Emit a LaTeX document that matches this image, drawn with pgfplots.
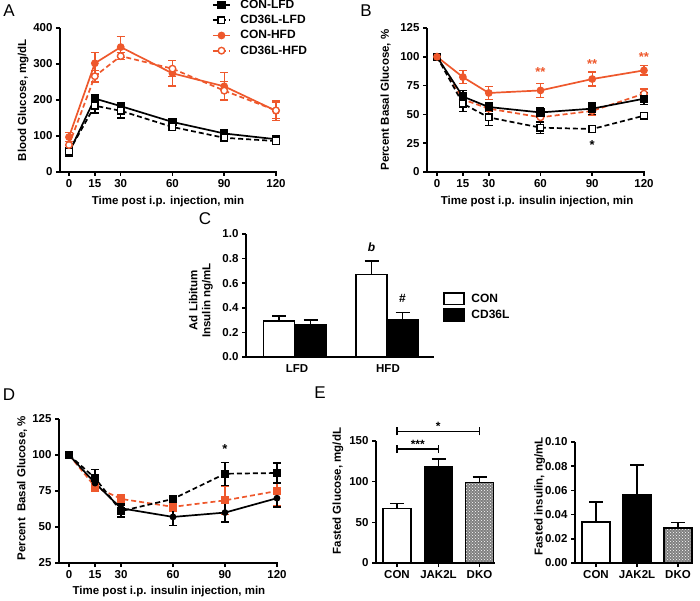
\documentclass[border=0pt]{standalone}
\usepackage{pgfplots}
\pgfplotsset{compat=1.18}
\usetikzlibrary{patterns}
\usepackage{fontspec}
\setmainfont{Liberation Sans}
\definecolor{orng}{RGB}{238,88,44}
\newcommand{\tfont}{\fontsize{11.5}{13}\selectfont\bfseries}
\pgfplotsset{
  gp/.style={
    scale only axis,
    axis lines=left,
    axis line style={-, line width=1.7pt},
    tick align=outside,
    major tick length=4pt,
    tick style={line width=1.5pt, black},
    tick label style={font=\tfont},
    label style={font=\tfont},
    clip=false,
    /pgf/number format/assume math mode=true,
    ylabel style={anchor=center},
    xlabel style={anchor=center},
  },
  ebar/.style={
    error bars/y dir=both, error bars/y explicit,
    error bars/error bar style={solid, line width=1.4pt},
    error bars/error mark options={line width=1.4pt, mark size=4pt, rotate=90},
  },
  pbar/.style={
    error bars/y dir=plus, error bars/y explicit,
    error bars/error bar style={solid, line width=1.7pt},
    error bars/error mark options={line width=1.7pt, mark size=7pt, rotate=90},
  },
  conlfd/.style={black, solid, line width=1.7pt, mark=square*, mark size=3.3pt, mark options={solid, fill=black}, ebar},
  cdlfd/.style={black, dash pattern=on 5pt off 3pt, line width=1.7pt, mark=square*, mark size=3.3pt, mark options={solid, fill=white, line width=1.4pt}, ebar},
  conhfd/.style={orng, solid, line width=1.7pt, mark=*, mark size=3pt, mark options={solid, fill=orng}, ebar},
  cdhfd/.style={orng, dash pattern=on 5pt off 3pt, line width=1.7pt, mark=*, mark size=3.3pt, mark options={solid, fill=white, line width=1.4pt}, ebar},
  dko/.style={fill=black!50, postaction={pattern=crosshatch dots, pattern color=white}},
}
\begin{document}
\begin{tikzpicture}
\path[use as bounding box] (0pt,0pt) rectangle (700pt,600pt);

% ---------------- Panel A ----------------
\begin{axis}[gp, at={(60pt,428pt)}, anchor=south west, width=217pt, height=144pt,
  xmin=-5.2, xmax=120.6, ymin=0, ymax=400,
  xtick={0,15,30,60,90,120}, ytick={0,100,200,300,400},
  xlabel={Time post i.p. injection, min}, ylabel={Blood Glucose, mg/dL},
  xlabel style={at={(axis description cs:0.498,-0.208)}},
  ylabel style={at={(axis description cs:-0.17,0.5)}},
  legend style={at={(axis description cs:0.70,1.205)}, anchor=north west, draw=none, fill=none,
    font=\fontsize{12}{13}\selectfont\bfseries, row sep=2.3pt, inner sep=0pt,
    nodes={inner sep=1.5pt},
    /tikz/every odd column/.append style={column sep=8pt}},
  legend cell align=left,
]
\addplot[conlfd] table[x=t, y=y, y error=e] {
t y e
0 54 5
15 204 12
30 183 10
60 139 7
90 107 5
120 91 4
};
\addlegendentry{CON-LFD}
\addplot[cdlfd] table[x=t, y=y, y error=e] {
t y e
0 57 5
15 184 20
30 170 20
60 125 8
90 95 5
120 86 4
};
\addlegendentry{CD36L-LFD}
\addplot[conhfd] table[x=t, y=y, y error=e] {
t y e
0 97 12
15 302 30
30 347 29
60 274 35
90 238 38
120 170 27
};
\addlegendentry{CON-HFD}
\addplot[cdhfd] table[x=t, y=y, y error=e] {
t y e
0 75 10
15 266 16
30 322 10
60 287 22
90 226 25
120 171 22
};
\addlegendentry{CD36L-HFD}
\end{axis}

% ---------------- Panel B ----------------
\begin{axis}[gp, at={(427pt,428pt)}, anchor=south west, width=218pt, height=144pt,
  xmin=-5.8, xmax=120.6, ymin=0, ymax=125,
  xtick={0,15,30,60,90,120}, ytick={0,25,50,75,100,125},
  xlabel={Time post i.p. insulin injection, min}, ylabel={Percent Basal Glucose, \%},
  xlabel style={at={(axis description cs:0.505,-0.208)}},
  ylabel style={at={(axis description cs:-0.19,0.5)}},
]
\addplot[cdhfd] table[x=t, y=y, y error=e] {
t y e
0 100 0
15 63 5
30 55 4
60 47.5 4
90 53 4
120 68 4
};
\addplot[conlfd] table[x=t, y=y, y error=e] {
t y e
0 100 0
15 65.5 5
30 56.4 4
60 51.7 4
90 55 5
120 63.6 5
};
\addplot[cdlfd] table[x=t, y=y, y error=e] {
t y e
0 100 0
15 59.3 7
30 47.4 7
60 38.5 5
90 37.3 3
120 48.9 3
};
\addplot[conhfd] table[x=t, y=y, y error=e] {
t y e
0 100 0
15 82.4 5.5
30 68.6 5.5
60 70.8 6
90 80.7 6
120 88.2 4
};
\node[orng, font=\fontsize{13}{13}\selectfont\bfseries] at (axis cs:60,87) {**};
\node[orng, font=\fontsize{13}{13}\selectfont\bfseries] at (axis cs:90,93.5) {**};
\node[orng, font=\fontsize{13}{13}\selectfont\bfseries] at (axis cs:120,99.5) {**};
\node[black, font=\fontsize{13}{13}\selectfont\bfseries] at (axis cs:90,23.5) {*};
\end{axis}

% ---------------- Panel C ----------------
\begin{axis}[gp, at={(246pt,243pt)}, anchor=south west, width=188pt, height=123pt,
  xmin=0, xmax=188, ymin=0, ymax=1.0,
  xtick={51,142}, xticklabels={LFD,HFD}, xtick style={draw=none},
  ytick={0,0.2,0.4,0.6,0.8,1.0}, yticklabels={0.0,0.2,0.4,0.6,0.8,1.0},
  ylabel={Ad Libitum\\Insulin ng/mL},
  ylabel style={at={(axis description cs:-0.24,0.46)}, align=center},
  legend style={at={(axis description cs:1.048,0.53)}, anchor=north west, draw=none, fill=none,
    font=\fontsize{12}{13}\selectfont\bfseries, row sep=3pt, inner sep=0pt,
    nodes={inner sep=1.5pt},
    /tikz/every odd column/.append style={column sep=5pt}},
  legend cell align=left,
  legend image code/.code={\draw[line width=1.7pt, draw=black, #1] (0pt,-5.5pt) rectangle (20pt,6pt);},
]
\addplot[ybar, bar shift=0pt, bar width=31, fill=white, draw=black, line width=1.8pt, pbar]
  coordinates {(33,0.295) +- (0,0.038) (125.5,0.67) +- (0,0.113)};
\addlegendentry{CON}
\addplot[ybar, bar shift=0pt, bar width=31, fill=black, draw=black, line width=1.8pt, pbar]
  coordinates {(64.5,0.265) +- (0,0.037) (156.5,0.305) +- (0,0.058)};
\addlegendentry{CD36L}
\node[font=\fontsize{12}{13}\selectfont\bfseries\itshape] at (axis cs:125.5,0.89) {b};
\node[font=\fontsize{12}{13}\selectfont\bfseries] at (axis cs:156.5,0.475) {\#};
\end{axis}

% ---------------- Panel D ----------------
\begin{axis}[gp, at={(59pt,37pt)}, anchor=south west, width=219pt, height=144pt,
  xmin=-5.8, xmax=120.6, ymin=25, ymax=125,
  xtick={0,15,30,60,90,120}, ytick={25,50,75,100,125},
  xlabel={Time post i.p. insulin injection, min}, ylabel={Percent\ \ Basal Glucose, \%},
  xlabel style={at={(axis description cs:0.502,-0.2)}},
  ylabel style={at={(axis description cs:-0.169,0.52)}},
]
\addplot[orng, dash pattern=on 5pt off 3pt, line width=1.7pt, mark=square*, mark size=3.2pt, mark options={solid, fill=orng}, ebar] table[x=t, y=y, y error=e] {
t y e
0 100 0
15 78 3
30 69.5 3
60 64 3
90 68.5 10
120 75 10
};
\addplot[black, dash pattern=on 5pt off 3pt, line width=1.7pt, mark=square*, mark size=3.3pt, mark options={solid, fill=black}, ebar] table[x=t, y=y, y error=e] {
t y e
0 100 0
15 84 6
30 61 4
60 69.5 2
90 87 8
120 87.5 7
};
\addplot[black, solid, line width=1.7pt, mark=*, mark size=2.5pt, mark options={solid, fill=black}, ebar] table[x=t, y=y, y error=e] {
t y e
0 100 0
15 80.5 3
30 63 3
60 57 6
90 60 6.5
120 70 6
};
\node[black, font=\fontsize{13}{13}\selectfont\bfseries] at (axis cs:90,104) {*};
\end{axis}

% ---------------- Panel E left ----------------
\begin{axis}[gp, at={(376pt,37pt)}, anchor=south west, width=119pt, height=122pt,
  xmin=0, xmax=119, ymin=0, ymax=150,
  xtick={21,62.5,103.5}, xticklabels={CON,JAK2L,DKO},
  ytick={0,50,100,150},
  ylabel={Fasted Glucose, mg/dL},
  ylabel style={at={(axis description cs:-0.32,0.59)}},
]
\addplot[ybar, bar shift=0pt, bar width=28, fill=white, draw=black, line width=1.8pt, pbar]
  coordinates {(21,67) +- (0,6)};
\addplot[ybar, bar shift=0pt, bar width=28, fill=black, draw=black, line width=1.8pt, pbar]
  coordinates {(62.5,118) +- (0,10)};
\addplot[ybar, bar shift=0pt, bar width=28, dko, draw=black, line width=1.8pt, pbar]
  coordinates {(103.5,99) +- (0,7)};
\draw[line width=1.4pt] (axis cs:21,135) -- (axis cs:21,145);
\draw[line width=1.4pt] (axis cs:62.5,135) -- (axis cs:62.5,145);
\draw[line width=1.4pt] (axis cs:21,140) -- (axis cs:62.5,140);
\draw[line width=1.4pt] (axis cs:21,157) -- (axis cs:21,167);
\draw[line width=1.4pt] (axis cs:103.5,157) -- (axis cs:103.5,167);
\draw[line width=1.4pt] (axis cs:21,162) -- (axis cs:103.5,162);
\node[font=\fontsize{12}{12}\selectfont\bfseries] at (axis cs:41.75,146) {***};
\node[font=\fontsize{12}{12}\selectfont\bfseries] at (axis cs:62.25,168) {*};
\end{axis}

% ---------------- Panel E right ----------------
\begin{axis}[gp, at={(575pt,37pt)}, anchor=south west, width=118pt, height=121pt,
  xmin=0, xmax=118, ymin=0, ymax=0.10,
  xtick={21,62,103}, xticklabels={CON,JAK2L,DKO},
  ytick={0,0.02,0.04,0.06,0.08,0.10}, yticklabels={0.00,0.02,0.04,0.06,0.08,0.10},
  ylabel={Fasted insulin, ng/mL},
  ylabel style={at={(axis description cs:-0.30,0.55)}},
]
\addplot[ybar, bar shift=0pt, bar width=28, fill=white, draw=black, line width=1.8pt, pbar]
  coordinates {(21,0.0342) +- (0,0.0165)};
\addplot[ybar, bar shift=0pt, bar width=28, fill=black, draw=black, line width=1.8pt, pbar]
  coordinates {(62,0.0562) +- (0,0.0246)};
\addplot[ybar, bar shift=0pt, bar width=28, dko, draw=black, line width=1.8pt, pbar]
  coordinates {(103,0.0288) +- (0,0.0046)};
\end{axis}

% Panel letters
\node[font=\fontsize{17}{17}\selectfont] at (9pt,589pt) {A};
\node[font=\fontsize{17}{17}\selectfont] at (366pt,589pt) {B};
\node[font=\fontsize{17}{17}\selectfont] at (205pt,381pt) {C};
\node[font=\fontsize{17}{17}\selectfont] at (9pt,205pt) {D};
\node[font=\fontsize{17}{17}\selectfont] at (320pt,207pt) {E};
\end{tikzpicture}
\end{document}
